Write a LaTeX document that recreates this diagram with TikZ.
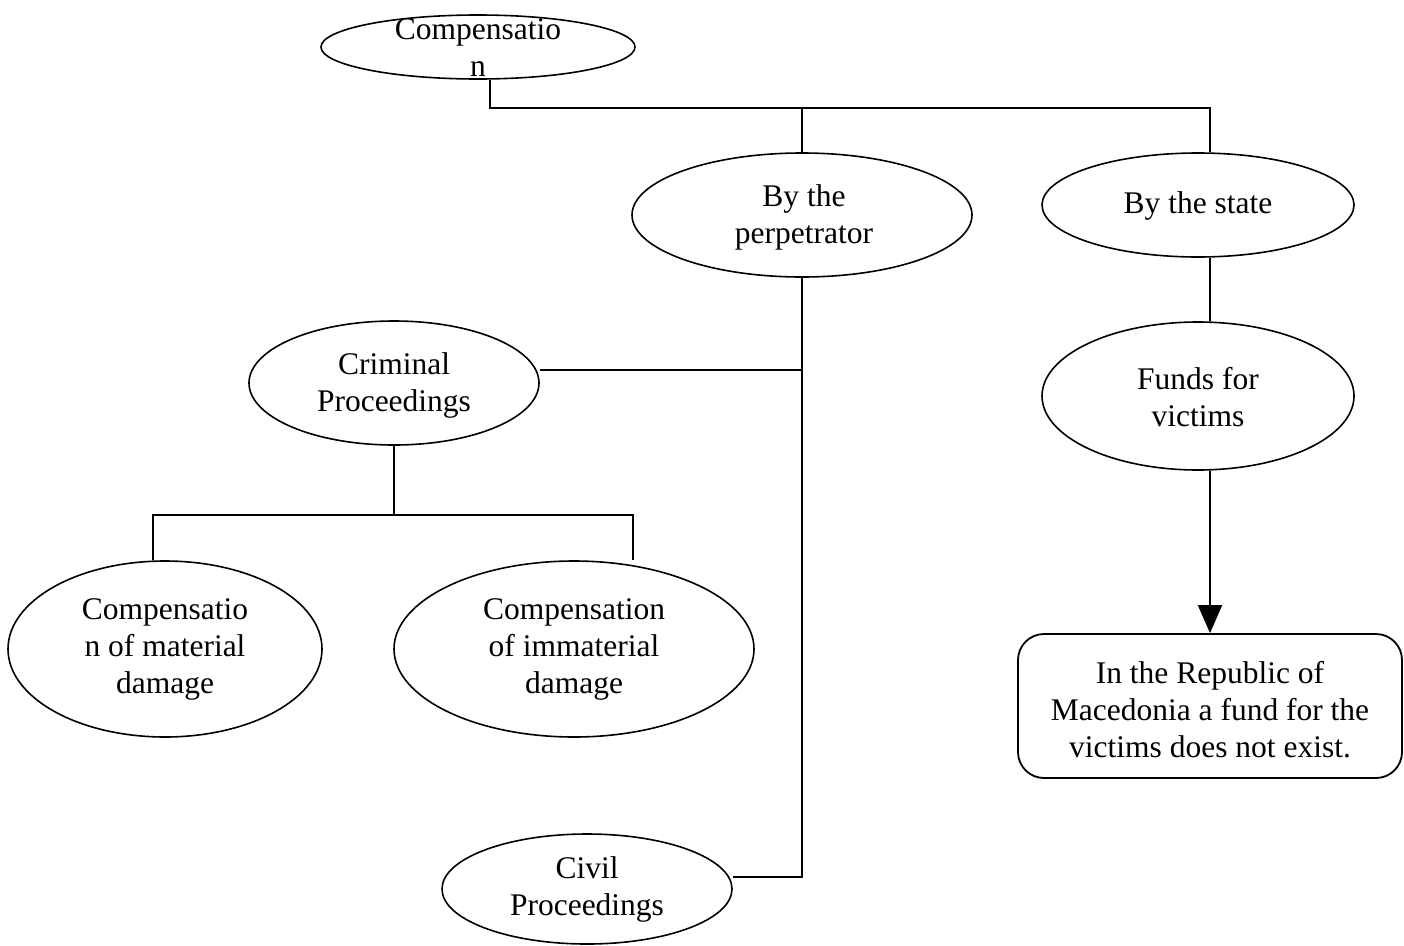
\documentclass[tikz,border=0pt]{standalone}
\usepackage{fontspec}
\setmainfont{Liberation Serif}
\usetikzlibrary{shapes.geometric,arrows.meta}
\begin{document}
\begin{tikzpicture}[x=1pt,y=-1pt,line width=2pt,
  ell/.style={draw,ellipse,inner sep=0pt,line width=1.6pt},
  txt/.style={align=center,inner sep=0pt,font=\fontsize{31.5}{37}\selectfont},
  box/.style={draw,rounded corners=26pt,inner sep=0pt,line width=1.8pt}]
\useasboundingbox (0,0) rectangle (1404,945);
% ellipses
\node[ell,minimum width=314pt,minimum height=64pt] (comp) at (478,47) {};
\node[txt] (compT) at (478,48) {Compensatio\\n};
\node[ell,minimum width=340pt,minimum height=124pt] (perp) at (802,215) {};
\node[txt] (perpT) at (804,217) {By the\\perpetrator};
\node[ell,minimum width=312pt,minimum height=104pt] (state) at (1198,205) {};
\node[txt] (stateT) at (1198,206) {By the state};
\node[ell,minimum width=312pt,minimum height=148pt] (fund) at (1198,396) {};
\node[txt] (fundT) at (1198,397) {Funds for\\victims};
\node[box,minimum width=384pt,minimum height=144pt] (rep) at (1210,706) {};
\node[txt] (repT) at (1210,710) {In the Republic of\\Macedonia a fund for the\\victims does not exist.};
\node[ell,minimum width=290pt,minimum height=124pt] (crim) at (394,383) {};
\node[txt] (crimT) at (394,385) {Criminal\\Proceedings};
\node[ell,minimum width=314pt,minimum height=176pt] (mat) at (165,649) {};
\node[txt] (matT) at (165,649) {Compensatio\\n of material\\damage};
\node[ell,minimum width=360pt,minimum height=176pt] (imm) at (574,649) {};
\node[txt] (immT) at (574,649) {Compensation\\of immaterial\\damage};
\node[ell,minimum width=290pt,minimum height=110pt] (civ) at (587,889) {};
\node[txt] (civT) at (587,889) {Civil\\Proceedings};
% junction coordinates
\coordinate (j1) at (802,108);
\coordinate (j2) at (802,370);
\coordinate (j3) at (802,877);
\coordinate (j4) at (394,515);
% connectors
\draw ([xshift=12pt]comp.south) |- (j1) -| ([xshift=12pt]state.north);
\draw (j1) -- (perp.north);
\draw (perp.south) -- (j3) -- (civ.east |- j3);
\draw (crim.east |- j2) -- (j2);
\draw (crim.south) -- (j4);
\draw ([xshift=-12pt]mat.north) |- (j4) -| ([xshift=59pt]imm.north);
\draw ([xshift=12pt]state.south) -- ([xshift=12pt]fund.north);
\draw[-{Triangle[width=24pt,length=28pt]}] ([xshift=12pt]fund.south) -- (rep.north);
\end{tikzpicture}
\end{document}
